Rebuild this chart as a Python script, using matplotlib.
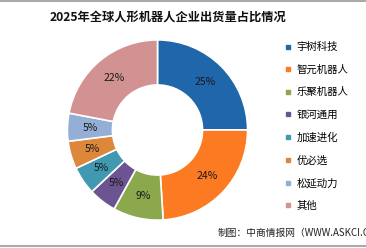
import matplotlib.pyplot as plt
from matplotlib.lines import Line2D

plt.rcParams['font.family'] = ['Noto Sans CJK SC', 'DejaVu Sans']

# data
companies = ['宇树科技', '智元机器人', '乐聚机器人', '银河通用', '加速进化', '优必选', '松延动力', '其他']
shares = [25, 24, 9, 5, 5, 5, 5, 22]
colors = ['#1f66ab', '#fb7a22', '#8ba84c', '#6c5391', '#4099b0', '#dd873b', '#94aed5', '#d29292']

fig = plt.figure(figsize=(3.66, 2.48), dpi=100)

# donut
ax = fig.add_axes([157.5/366 - 91/366, 1 - (130 + 91)/248, 182/366, 182/248])
wedges, texts, autotexts = ax.pie(
    shares, colors=colors, startangle=90, counterclock=False,
    autopct='%d%%', pctdistance=0.75,
    wedgeprops=dict(width=0.5, edgecolor='white', linewidth=1.2),
    textprops=dict(fontsize=7.5, color='#1a1a1a'))
ax.set_xlim(-1.01, 1.01)
ax.set_ylim(-1.01, 1.01)
ax.set_aspect('equal')

fig.text(168/366, 1 - 17/248, '2025年全球人形机器人企业出货量占比情况',
         ha='center', va='center', fontsize=8.8, fontweight='bold', color='#111111')

# legend
handles = [Line2D([0], [0], marker='s', linestyle='none', markersize=3.5,
                  markerfacecolor=c, markeredgecolor=c) for c in colors]
fig.legend(handles, companies, loc='upper left', bbox_to_anchor=(280/366, 1 - 38/248),
           frameon=False, fontsize=7.5, handletextpad=0.4, labelspacing=1.2,
           handlelength=0.8, borderaxespad=0)

fig.text(218/366, 1 - 233/248, '制图：中商情报网（WWW.ASKCI.COM）',
         ha='left', va='center', fontsize=7, color='#222222')

# thin grey rules top and bottom
fig.add_artist(Line2D([0, 1], [1 - 0.8/248, 1 - 0.8/248], color='#aaaaaa', linewidth=1.5))
fig.add_artist(Line2D([0, 1], [1 - 246/248, 1 - 246/248], color='#aaaaaa', linewidth=1.5))

fig.savefig('out.png', dpi=100)
